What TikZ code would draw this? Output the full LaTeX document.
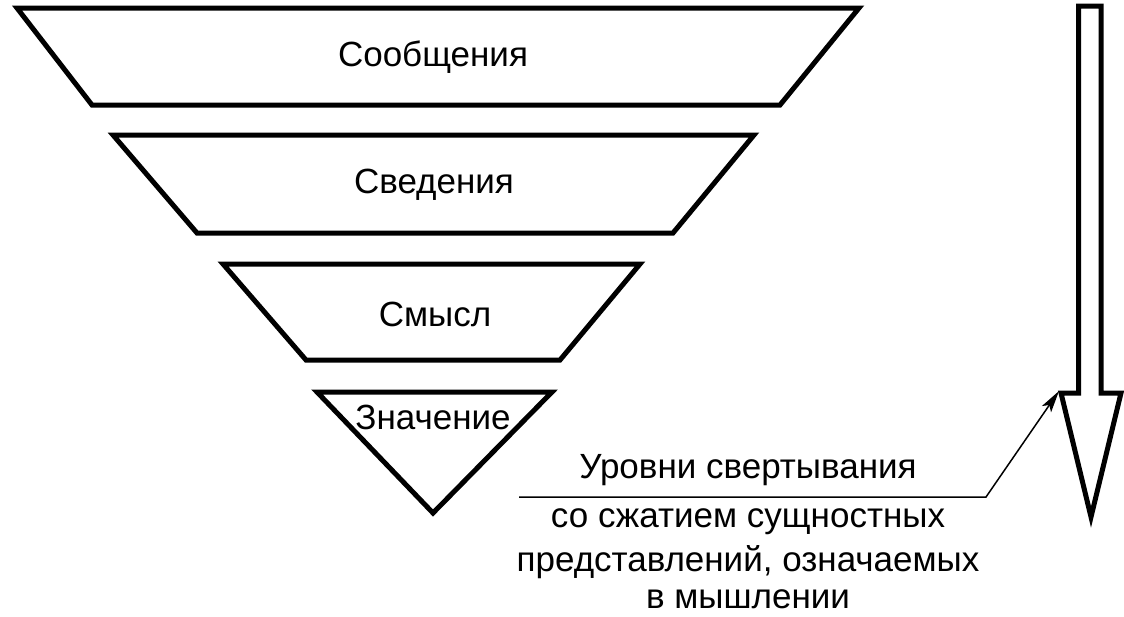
\documentclass[tikz,border=0pt]{standalone}
\usepackage{fontspec}
\setmainfont{Liberation Sans}
\usetikzlibrary{arrows.meta}
\begin{document}
\begin{tikzpicture}[x=1pt,y=-1pt,
  outl/.style={draw=black,line width=5pt,line join=miter},
  lbl/.style={font=\fontsize{35}{40}\selectfont,inner sep=0pt},
  thinln/.style={draw=black,line width=1.5pt}]
\useasboundingbox (0,0) rectangle (1124,616);
\draw[outl] (17,8) -- (859,8) -- (780,105) -- (92,105) -- cycle;
\draw[outl] (113,135) -- (754,135) -- (673,233) -- (197,233) -- cycle;
\draw[outl] (223,264) -- (640,264) -- (560,360) -- (306,360) -- cycle;
\draw[outl] (317,392) -- (552,392) -- (433,513) -- cycle;
\node[lbl] (a) at (433,57) {Сообщения};
\node[lbl] (b) at (434,185) {Сведения};
\node[lbl] (c) at (435,314) {Смысл};
\node[lbl] (d) at (433,417) {Значение};
% big arrow
\draw[outl] (1078.5,6) -- (1101,6) -- (1101,393) -- (1121,393) -- (1091,517) -- (1061,393) -- (1078.5,393) -- cycle;
\coordinate (tipL) at (1059,391);
\node[lbl] (t1) at (748,470) {Уровни свертывания};
\node[lbl] (t2) at (748,522) {со сжатием сущностных};
\node[lbl] (t3) at (748,562) {представлений, означаемых};
\node[lbl] (t4) at (748,599) {в мышлении};
\coordinate (l0) at (519,497);
\coordinate (l1) at (986,497);
\draw[thinln,-{Stealth[length=22pt,width=11pt,inset=5pt]}] (l0) -- (l1) -- (tipL);
\end{tikzpicture}
\end{document}
